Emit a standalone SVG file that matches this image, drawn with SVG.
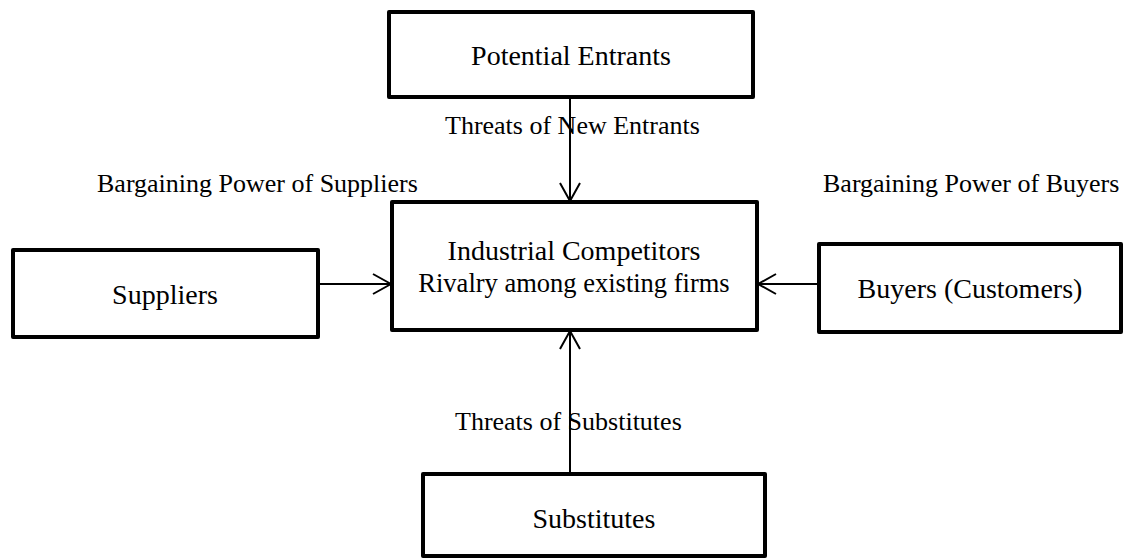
<svg xmlns="http://www.w3.org/2000/svg" width="1139" height="558" viewBox="0 0 1139 558">
<style>
  .box { fill: #fff; stroke: #000; stroke-width: 4; stroke-linejoin: round; }
  .t { font-family: "Liberation Serif", "Times New Roman", serif; fill: #000; }
  .big { font-size: 28px; text-anchor: middle; }
  .lbl { font-size: 26px; }
  .conn { stroke: #000; stroke-width: 2; fill: none; }
</style>
<defs>
  <marker id="arr" viewBox="0 0 20 24" refX="19" refY="12" markerWidth="20" markerHeight="24" markerUnits="userSpaceOnUse" orient="auto">
    <path d="M1,2 L19,12 L1,22" fill="none" stroke="#000" stroke-width="2"/>
  </marker>
</defs>
<rect width="1139" height="558" fill="#fff"/>
<g id="connectors">
  <line class="conn" x1="570" y1="97" x2="570" y2="201" marker-end="url(#arr)"/>
  <line class="conn" x1="570" y1="474" x2="570" y2="331" marker-end="url(#arr)"/>
  <line class="conn" x1="318" y1="284" x2="391" y2="284" marker-end="url(#arr)"/>
  <line class="conn" x1="819" y1="284" x2="758" y2="284" marker-end="url(#arr)"/>
</g>
<g id="labels">
  <text class="t lbl" x="445" y="134">Threats of New Entrants</text>
  <text class="t lbl" x="455" y="430">Threats of Substitutes</text>
  <text class="t lbl" x="97" y="192">Bargaining Power of Suppliers</text>
  <text class="t lbl" x="823" y="192">Bargaining Power of Buyers</text>
</g>
<g id="potential-entrants">
  <rect class="box" x="389" y="12" width="364" height="85"/>
  <text class="t big" x="571" y="65">Potential Entrants</text>
</g>
<g id="industrial-competitors">
  <rect class="box" x="392" y="202" width="365" height="128"/>
  <text class="t big" x="574" y="260">Industrial Competitors</text>
  <text class="t big" x="574" y="292" style="font-size:26.5px">Rivalry among existing firms</text>
</g>
<g id="suppliers">
  <rect class="box" x="13" y="250" width="305" height="87"/>
  <text class="t big" x="165" y="304">Suppliers</text>
</g>
<g id="buyers">
  <rect class="box" x="819" y="244" width="302" height="88"/>
  <text class="t big" x="970" y="298">Buyers (Customers)</text>
</g>
<g id="substitutes">
  <rect class="box" x="423" y="474" width="342" height="82"/>
  <text class="t big" x="594" y="528">Substitutes</text>
</g>
</svg>
